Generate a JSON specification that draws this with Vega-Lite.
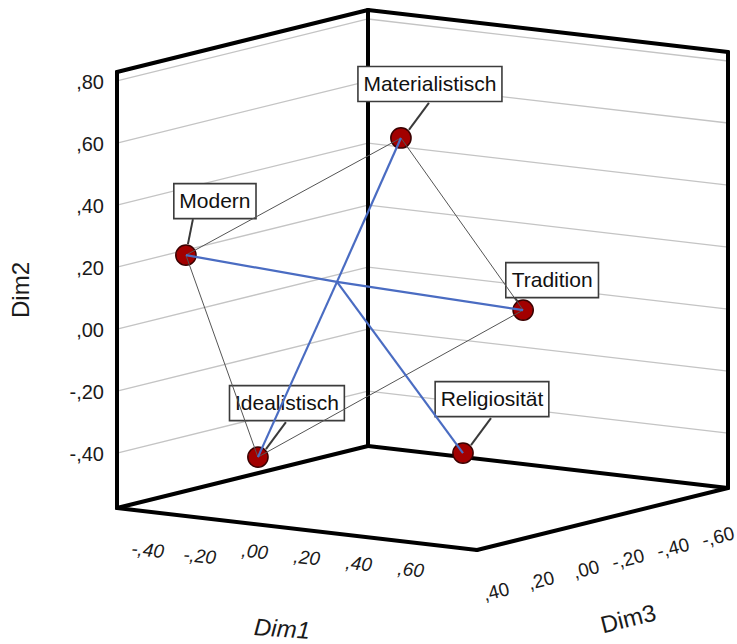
{
  "$schema": "https://vega.github.io/schema/vega-lite/v6.json",
  "width": 737,
  "height": 644,
  "padding": 0,
  "autosize": "none",
  "background": "white",
  "config": {"view": {"stroke": null}, "font": "Liberation Sans"},
  "datasets": {
    "punkte": [
      {"Konzept": "Materialistisch", "rolle": "Merkmal", "Dim1": 0.075, "Dim2": 0.577, "Dim3": -0.06},
      {"Konzept": "Modern", "rolle": "Merkmal", "Dim1": -0.484, "Dim2": 0.2, "Dim3": 0.25},
      {"Konzept": "Tradition", "rolle": "Merkmal", "Dim1": 0.424, "Dim2": 0.031, "Dim3": -0.2},
      {"Konzept": "Idealistisch", "rolle": "Merkmal", "Dim1": -0.38, "Dim2": -0.477, "Dim3": 0.05},
      {"Konzept": "Religiosität", "rolle": "Merkmal", "Dim1": -0.067, "Dim2": -0.532, "Dim3": -0.5},
      {"Konzept": "Zentrum", "rolle": "Zentrum", "Dim1": -0.197, "Dim2": 0.081, "Dim3": -0.09}
    ],
    "linien": [
      {"typ": "Verbindung", "von": "Modern", "nach": "Materialistisch"},
      {"typ": "Verbindung", "von": "Materialistisch", "nach": "Tradition"},
      {"typ": "Verbindung", "von": "Tradition", "nach": "Idealistisch"},
      {"typ": "Verbindung", "von": "Idealistisch", "nach": "Modern"},
      {"typ": "Zentrum", "von": "Zentrum", "nach": "Modern"},
      {"typ": "Zentrum", "von": "Zentrum", "nach": "Tradition"},
      {"typ": "Zentrum", "von": "Zentrum", "nach": "Materialistisch"},
      {"typ": "Zentrum", "von": "Zentrum", "nach": "Idealistisch"},
      {"typ": "Zentrum", "von": "Zentrum", "nach": "Religiosität"}
    ],
    "kanten": [
      {"a": "000", "b": "010"},
      {"a": "001", "b": "011"},
      {"a": "101", "b": "111"},
      {"a": "010", "b": "011"},
      {"a": "011", "b": "111"},
      {"a": "000", "b": "100"},
      {"a": "100", "b": "101"},
      {"a": "000", "b": "001"},
      {"a": "001", "b": "101"}
    ],
    "skala": [
      {"achse": "Dim2", "wert": -0.4},
      {"achse": "Dim2", "wert": -0.2},
      {"achse": "Dim2", "wert": 0},
      {"achse": "Dim2", "wert": 0.2},
      {"achse": "Dim2", "wert": 0.4},
      {"achse": "Dim2", "wert": 0.6},
      {"achse": "Dim2", "wert": 0.8},
      {"achse": "Dim1", "wert": -0.4},
      {"achse": "Dim1", "wert": -0.2},
      {"achse": "Dim1", "wert": 0},
      {"achse": "Dim1", "wert": 0.2},
      {"achse": "Dim1", "wert": 0.4},
      {"achse": "Dim1", "wert": 0.6},
      {"achse": "Dim3", "wert": 0.4},
      {"achse": "Dim3", "wert": 0.2},
      {"achse": "Dim3", "wert": 0},
      {"achse": "Dim3", "wert": -0.2},
      {"achse": "Dim3", "wert": -0.4},
      {"achse": "Dim3", "wert": -0.6}
    ],
    "titel": [
      {"achse": "Dim1"},
      {"achse": "Dim2"},
      {"achse": "Dim3"}
    ]
  },
  "encoding": {
    "x": {"field": "px", "type": "quantitative", "scale": {"domain": [0, 737], "nice": false, "zero": false}, "axis": null},
    "y": {"field": "py", "type": "quantitative", "scale": {"domain": [0, 644], "reverse": true, "nice": false, "zero": false}, "axis": null}
  },
  "layer": [
    {
      "data": {"name": "skala"},
      "transform": [
        {"filter": "datum.achse === 'Dim2'"},
        {"calculate": "(datum.wert + 0.577) / 1.406", "as": "v"},
        {"calculate": "117", "as": "px"},
        {"calculate": "508 - 436*datum.v", "as": "py"},
        {"calculate": "117 + 251", "as": "px2"},
        {"calculate": "508 - 436*datum.v - 62", "as": "py2"}
      ],
      "mark": {"type": "rule", "color": "#c4c4c4", "strokeWidth": 1.3},
      "encoding": {"x2": {"field": "px2"}, "y2": {"field": "py2"}}
    },
    {
      "data": {"name": "skala"},
      "transform": [
        {"filter": "datum.achse === 'Dim2'"},
        {"calculate": "(datum.wert + 0.577) / 1.406", "as": "v"},
        {"calculate": "117 + 251", "as": "px"},
        {"calculate": "508 - 436*datum.v - 62", "as": "py"},
        {"calculate": "117 + 251 + 360", "as": "px2"},
        {"calculate": "508 - 436*datum.v - 62 + 42", "as": "py2"}
      ],
      "mark": {"type": "rule", "color": "#c4c4c4", "strokeWidth": 1.3},
      "encoding": {"x2": {"field": "px2"}, "y2": {"field": "py2"}}
    },
    {
      "data": {"name": "kanten"},
      "transform": [
        {"calculate": "toNumber(substring(datum.a, 0, 1))", "as": "ua"},
        {"calculate": "toNumber(substring(datum.a, 1, 2))", "as": "va"},
        {"calculate": "toNumber(substring(datum.a, 2, 3))", "as": "wa"},
        {"calculate": "toNumber(substring(datum.b, 0, 1))", "as": "ub"},
        {"calculate": "toNumber(substring(datum.b, 1, 2))", "as": "vb"},
        {"calculate": "toNumber(substring(datum.b, 2, 3))", "as": "wb"},
        {"calculate": "117 + 360*datum.ua + 251*datum.wa", "as": "px"},
        {"calculate": "508 - 436*datum.va + 42*datum.ua - 62*datum.wa", "as": "py"},
        {"calculate": "117 + 360*datum.ub + 251*datum.wb", "as": "px2"},
        {"calculate": "508 - 436*datum.vb + 42*datum.ub - 62*datum.wb", "as": "py2"}
      ],
      "mark": {"type": "rule", "color": "#000000", "strokeWidth": 4, "strokeCap": "round"},
      "encoding": {"x2": {"field": "px2"}, "y2": {"field": "py2"}}
    },
    {
      "data": {"name": "punkte"},
      "transform": [
        {"filter": "datum.rolle === 'Merkmal'"},
        {"calculate": "(datum.Dim1 + 0.538) / 1.385", "as": "u"},
        {"calculate": "(datum.Dim2 + 0.577) / 1.406", "as": "v"},
        {"calculate": "(0.494 - datum.Dim3) / 1.116", "as": "w"},
        {"calculate": "117 + 360*datum.u + 251*datum.w", "as": "sx"},
        {"calculate": "508 - 436*datum.v + 42*datum.u - 62*datum.w", "as": "sy"},
        {"calculate": "datum.sx + (datum.Konzept === 'Modern' ? 7 : datum.Konzept === 'Tradition' ? -9 : 28)", "as": "px"},
        {"calculate": "datum.sy + (datum.Konzept === 'Modern' ? -36 : datum.Konzept === 'Tradition' ? -13 : -35)", "as": "py"},
        {"calculate": "datum.sx + (datum.Konzept === 'Modern' ? 2 : datum.Konzept === 'Tradition' ? -5 : 8)", "as": "px2"},
        {"calculate": "datum.sy + (datum.Konzept === 'Modern' ? -11 : -8)", "as": "py2"}
      ],
      "mark": {"type": "rule", "color": "#3a3a3a", "strokeWidth": 2},
      "encoding": {"x2": {"field": "px2"}, "y2": {"field": "py2"}}
    },
    {
      "data": {"name": "punkte"},
      "transform": [
        {"filter": "datum.rolle === 'Merkmal'"},
        {"calculate": "(datum.Dim1 + 0.538) / 1.385", "as": "u"},
        {"calculate": "(datum.Dim2 + 0.577) / 1.406", "as": "v"},
        {"calculate": "(0.494 - datum.Dim3) / 1.116", "as": "w"},
        {"calculate": "117 + 360*datum.u + 251*datum.w", "as": "sx"},
        {"calculate": "508 - 436*datum.v + 42*datum.u - 62*datum.w", "as": "sy"},
        {"calculate": "(0.556*length(datum.Konzept) - 0.334*length(replace(datum.Konzept, regexp('[^ilj]', 'g'), '')) - 0.278*length(replace(datum.Konzept, regexp('[^tf]', 'g'), '')) - 0.223*length(replace(datum.Konzept, regexp('[^r]', 'g'), '')) - 0.056*length(replace(datum.Konzept, regexp('[^scvxyzk]', 'g'), '')) + 0.277*length(replace(datum.Konzept, regexp('[^mM]', 'g'), '')) + 0.166*length(replace(datum.Konzept, regexp('[^R]', 'g'), '')) + 0.055*length(replace(datum.Konzept, regexp('[^T]', 'g'), '')) - 0.278*length(replace(datum.Konzept, regexp('[^I]', 'g'), ''))) * 21 + 11", "as": "breite"},
        {"calculate": "datum.sx + 29", "as": "lx"},
        {"calculate": "datum.sy + (datum.Konzept === 'Tradition' ? -30 : -54)", "as": "ly"},
        {"calculate": "datum.lx - datum.breite / 2", "as": "px"},
        {"calculate": "datum.lx + datum.breite / 2", "as": "px2"},
        {"calculate": "datum.ly - 17.5", "as": "py"},
        {"calculate": "datum.ly + 17.5", "as": "py2"}
      ],
      "mark": {"type": "rect", "fill": "#ffffff", "stroke": "#3c3c3c", "strokeWidth": 1.6},
      "encoding": {"x2": {"field": "px2"}, "y2": {"field": "py2"}}
    },
    {
      "data": {"name": "punkte"},
      "transform": [
        {"filter": "datum.rolle === 'Merkmal'"},
        {"calculate": "(datum.Dim1 + 0.538) / 1.385", "as": "u"},
        {"calculate": "(datum.Dim2 + 0.577) / 1.406", "as": "v"},
        {"calculate": "(0.494 - datum.Dim3) / 1.116", "as": "w"},
        {"calculate": "117 + 360*datum.u + 251*datum.w + 29", "as": "px"},
        {"calculate": "508 - 436*datum.v + 42*datum.u - 62*datum.w + (datum.Konzept === 'Tradition' ? -30 : -54)", "as": "py"}
      ],
      "mark": {"type": "text", "fontSize": 21, "color": "#111111", "align": "center", "baseline": "middle", "dy": 1},
      "encoding": {"text": {"field": "Konzept"}}
    },
    {
      "data": {"name": "punkte"},
      "transform": [
        {"filter": "datum.rolle === 'Merkmal'"},
        {"calculate": "(datum.Dim1 + 0.538) / 1.385", "as": "u"},
        {"calculate": "(datum.Dim2 + 0.577) / 1.406", "as": "v"},
        {"calculate": "(0.494 - datum.Dim3) / 1.116", "as": "w"},
        {"calculate": "117 + 360*datum.u + 251*datum.w", "as": "px"},
        {"calculate": "508 - 436*datum.v + 42*datum.u - 62*datum.w", "as": "py"}
      ],
      "mark": {"type": "point", "shape": "circle", "size": 410, "filled": true, "fill": "#a20000", "stroke": "#3a0000", "strokeWidth": 1.5, "opacity": 1}
    },
    {
      "data": {"name": "linien"},
      "transform": [
        {"lookup": "von", "from": {"data": {"name": "punkte"}, "key": "Konzept", "fields": ["Dim1", "Dim2", "Dim3"]}, "as": ["a1", "a2", "a3"]},
        {"lookup": "nach", "from": {"data": {"name": "punkte"}, "key": "Konzept", "fields": ["Dim1", "Dim2", "Dim3"]}, "as": ["b1", "b2", "b3"]},
        {"calculate": "(datum.a1 + 0.538) / 1.385", "as": "ua"},
        {"calculate": "(datum.a2 + 0.577) / 1.406", "as": "va"},
        {"calculate": "(0.494 - datum.a3) / 1.116", "as": "wa"},
        {"calculate": "(datum.b1 + 0.538) / 1.385", "as": "ub"},
        {"calculate": "(datum.b2 + 0.577) / 1.406", "as": "vb"},
        {"calculate": "(0.494 - datum.b3) / 1.116", "as": "wb"},
        {"calculate": "117 + 360*datum.ua + 251*datum.wa", "as": "px"},
        {"calculate": "508 - 436*datum.va + 42*datum.ua - 62*datum.wa", "as": "py"},
        {"calculate": "117 + 360*datum.ub + 251*datum.wb", "as": "px2"},
        {"calculate": "508 - 436*datum.vb + 42*datum.ub - 62*datum.wb", "as": "py2"}
      ],
      "mark": {"type": "rule"},
      "encoding": {
        "x2": {"field": "px2"},
        "y2": {"field": "py2"},
        "color": {"field": "typ", "type": "nominal", "scale": {"domain": ["Verbindung", "Zentrum"], "range": ["#555555", "#4a6cc2"]}, "legend": null},
        "strokeWidth": {"field": "typ", "type": "nominal", "scale": {"domain": ["Verbindung", "Zentrum"], "range": [1, 2.2]}, "legend": null}
      }
    },
    {
      "data": {"name": "skala"},
      "transform": [
        {"filter": "datum.achse === 'Dim2'"},
        {"calculate": "(datum.wert < 0 ? '-' : '') + ',' + substring(format(abs(datum.wert), '.2f'), 2)", "as": "etikett"},
        {"calculate": "(datum.wert + 0.577) / 1.406", "as": "v"},
        {"calculate": "117 - 13", "as": "px"},
        {"calculate": "508 - 436*datum.v + 2", "as": "py"}
      ],
      "mark": {"type": "text", "fontSize": 20, "color": "#1a1a1a", "align": "right", "baseline": "middle"},
      "encoding": {"text": {"field": "etikett"}}
    },
    {
      "data": {"name": "skala"},
      "transform": [
        {"filter": "datum.achse === 'Dim1'"},
        {"calculate": "(datum.wert < 0 ? '-' : '') + ',' + substring(format(abs(datum.wert), '.2f'), 2)", "as": "etikett"},
        {"calculate": "(datum.wert + 0.538) / 1.385", "as": "u"},
        {"calculate": "117 + 360*datum.u + 11", "as": "px"},
        {"calculate": "508 + 42*datum.u + (datum.wert < 0 ? 40 : 29)", "as": "py"}
      ],
      "mark": {"type": "text", "fontSize": 19, "fontStyle": "italic", "color": "#1a1a1a", "align": "right", "baseline": "middle", "angle": 6},
      "encoding": {"text": {"field": "etikett"}}
    },
    {
      "data": {"name": "skala"},
      "transform": [
        {"filter": "datum.achse === 'Dim3'"},
        {"calculate": "(datum.wert < 0 ? '-' : '') + ',' + substring(format(abs(datum.wert), '.2f'), 2)", "as": "etikett"},
        {"calculate": "(0.494 - datum.wert) / 1.116", "as": "w"},
        {"calculate": "117 + 360 + 251*datum.w + 11", "as": "px"},
        {"calculate": "508 + 42 - 62*datum.w + 44", "as": "py"}
      ],
      "mark": {"type": "text", "fontSize": 19, "color": "#1a1a1a", "align": "right", "baseline": "middle", "angle": -14},
      "encoding": {"text": {"field": "etikett"}}
    },
    {
      "data": {"name": "titel"},
      "transform": [
        {"filter": "datum.achse === 'Dim2'"},
        {"calculate": "117 - 95", "as": "px"},
        {"calculate": "508 - 436*0.5", "as": "py"}
      ],
      "mark": {"type": "text", "fontSize": 24, "color": "#1a1a1a", "align": "center", "baseline": "middle", "angle": 270},
      "encoding": {"text": {"field": "achse"}}
    },
    {
      "data": {"name": "titel"},
      "transform": [
        {"filter": "datum.achse === 'Dim1'"},
        {"calculate": "117 + 360*0.5 - 15", "as": "px"},
        {"calculate": "508 + 42*0.5 + 101", "as": "py"}
      ],
      "mark": {"type": "text", "fontSize": 24, "fontStyle": "italic", "color": "#1a1a1a", "align": "center", "baseline": "middle", "angle": 4},
      "encoding": {"text": {"field": "achse"}}
    },
    {
      "data": {"name": "titel"},
      "transform": [
        {"filter": "datum.achse === 'Dim3'"},
        {"calculate": "117 + 360 + 251*0.5 + 26", "as": "px"},
        {"calculate": "508 + 42 - 62*0.5 + 101", "as": "py"}
      ],
      "mark": {"type": "text", "fontSize": 24, "color": "#1a1a1a", "align": "center", "baseline": "middle", "angle": -14},
      "encoding": {"text": {"field": "achse"}}
    }
  ]
}
